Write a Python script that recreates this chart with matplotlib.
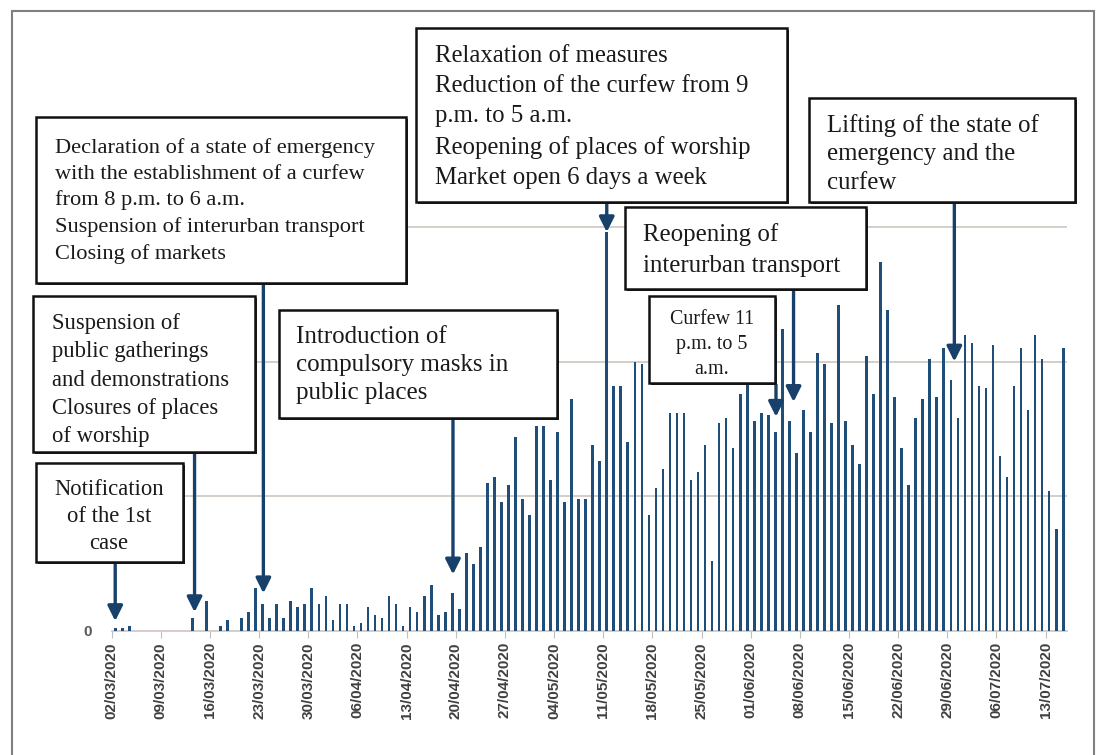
import matplotlib
matplotlib.use("Agg")
import matplotlib.pyplot as plt
from matplotlib.patches import Rectangle
import numpy as np

# ---------------- data ----------------
daily_cases = [1, 1, 2, 0, 0, 0, 0, 0, 0, 0, 0, 5, 0, 11, 0, 2, 4, 0, 5, 7,
               16, 10, 5, 10, 5, 11, 9, 10, 16, 10, 13, 4, 10, 10, 2, 3, 9, 6, 5, 13,
               10, 2, 9, 7, 13, 17, 6, 7, 14, 8, 29, 25, 31, 55, 57, 48, 54, 72, 49, 43,
               76, 76, 56, 74, 48, 86, 49, 49, 69, 63, 148, 91, 91, 70, 100, 99, 43, 53, 60, 81,
               81, 81, 56, 59, 69, 26, 77, 79, 68, 88, 95, 78, 81, 80, 74, 112, 78, 66, 82, 74,
               103, 99, 77, 121, 78, 69, 62, 102, 88, 137, 119, 87, 68, 54, 79, 86, 101, 87, 105, 93,
               79, 110, 107, 91, 90, 106, 65, 57, 91, 105, 82, 110, 101, 52, 38, 105]
tick_labels = ["02/03/2020", "09/03/2020", "16/03/2020", "23/03/2020", "30/03/2020",
               "06/04/2020", "13/04/2020", "20/04/2020", "27/04/2020", "04/05/2020",
               "11/05/2020", "18/05/2020", "25/05/2020", "01/06/2020", "08/06/2020",
               "15/06/2020", "22/06/2020", "29/06/2020", "06/07/2020", "13/07/2020"]
grid_levels = [50, 100, 150]

event_texts = [
    "Notification\nof the 1st\ncase",
    "Suspension of\npublic gatherings\nand demonstrations\nClosures of places\nof worship",
    "Declaration of a state of emergency\nwith the establishment of a curfew\nfrom 8 p.m. to 6 a.m.\nSuspension of interurban transport\nClosing of markets",
    "Introduction of\ncompulsory masks in\npublic places",
    "Relaxation of measures\nReduction of the curfew from 9\np.m. to 5 a.m.\nReopening of places of worship\nMarket open 6 days a week",
    "Reopening of\ninterurban transport",
    "Curfew 11\np.m. to 5\na.m.",
    "Lifting of the state of\nemergency and the\ncurfew",
]
event_day = [0.5, 11.8, 21.6, 48.6, 70.5, 97.1, 94.6, 120.0]
event_tip = [3.7, 7, 14, 21, 148, 85, 79.5, 100]

W, H = 1098, 755
fig = plt.figure(figsize=(W / 100, H / 100), dpi=100)
fig.patch.set_facecolor("white")

ax_l, ax_r, ax_t, ax_b = 111.7, 1066.7, 92, 631
ax = fig.add_axes([ax_l / W, 1 - ax_b / H, (ax_r - ax_l) / W, (ax_b - ax_t) / H])
ax.set_facecolor("none")

days = np.arange(len(daily_cases)) + 0.5
ax.bar(days, daily_cases, width=0.38, color="#1f4e79", zorder=3)

ax.set_xlim(0, 136)
ax.set_ylim(0, 200)
for g in grid_levels:
    ax.axhline(g, color="#c9c1ba", lw=1.1, zorder=1)

ax.set_xticks(np.arange(0, 7 * len(tick_labels), 7))
ax.set_xticklabels(tick_labels, rotation=90, fontsize=11, fontweight="bold",
                   color="#404040", family="Liberation Sans")
ax.set_yticks([0])
ax.set_yticklabels(["0"], fontsize=11, fontweight="bold", color="#595959",
                   family="Liberation Sans")
ax.tick_params(axis="x", length=5, color="#bfbfbf", pad=3)
ax.tick_params(axis="y", length=0, pad=14)
for s in ["top", "right", "left"]:
    ax.spines[s].set_visible(False)
ax.spines["bottom"].set_color("#d0c4c4")
ax.spines["bottom"].set_linewidth(1.2)

fig.add_artist(Rectangle((11.7 / W, -0.01), (1094 - 11.7) / W, 1 - 11 / H + 0.01,
                         transform=fig.transFigure, fill=False, edgecolor="#808080", lw=1.5))

boxes = [
    (36, 463, 183, 562),
    (33, 296, 255, 452),
    (36, 117, 406, 283),
    (279, 310, 557, 418),
    (416, 28, 787, 202),
    (625, 207, 866, 289),
    (649, 296, 775, 383),
    (809, 98, 1075, 202),
]
text_x = [109, 52, 55, 296, 435, 643, 712, 827]
text_dy = [3, 5, 0, 0, 1, 1, 4, 3]
text_align = ["center", "left", "left", "left", "left", "left", "center", "left"]
font_sizes = [16.3, 16.3, 16.1, 18, 17.85, 17.9, 14.4, 17.9]
line_sp = [1.36, 1.46, 1.46, 1.35, 1.48, 1.51, 1.45, 1.36]

def fx(px):
    return px / W

def fy(py):
    return 1 - py / H

arrow_color = "#17406a"
for i, txt in enumerate(event_texts):
    l, t, r, b = boxes[i]
    fig.add_artist(Rectangle((fx(l + 2), fy(b + 2)), (r - l) / W, (b - t) / H,
                             transform=fig.transFigure, facecolor="#222222",
                             edgecolor="none", zorder=5))
    fig.add_artist(Rectangle((fx(l), fy(b)), (r - l) / W, (b - t) / H,
                             transform=fig.transFigure, facecolor="white",
                             edgecolor="#111111", lw=1.8, zorder=6))
    fig.text(fx(text_x[i]), fy((t + b) / 2 + 1 + text_dy[i]), txt, ha=text_align[i],
             va="center", multialignment=text_align[i], fontsize=font_sizes[i],
             family="Liberation Serif", color="#1a1a1a", linespacing=line_sp[i], zorder=7)
    xd = event_day[i]
    ax.annotate("", xy=(xd, event_tip[i]), xycoords="data",
                xytext=(fx(ax_l + xd * (ax_r - ax_l) / 136), fy(b + 2)),
                textcoords="figure fraction",
                arrowprops=dict(arrowstyle="-|>,head_length=0.9,head_width=0.45",
                                color=arrow_color, lw=2.4, shrinkA=0, shrinkB=0),
                zorder=4, annotation_clip=False)

fig.savefig("out.png", dpi=100, facecolor="white")
